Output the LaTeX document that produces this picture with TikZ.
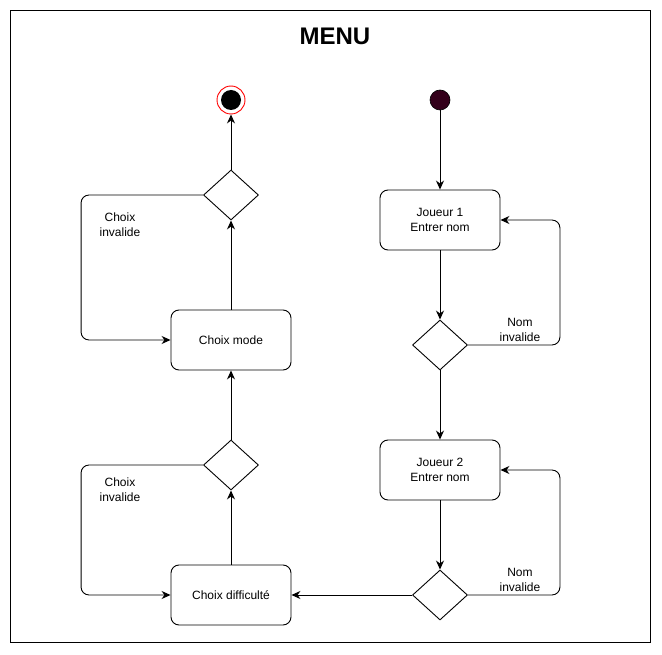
\documentclass[tikz,border=0pt]{standalone}
\usepackage{fontspec}
\setmainfont{Liberation Sans}
\usetikzlibrary{shapes.geometric,arrows.meta}

\definecolor{startfill}{HTML}{33001A}

\tikzset{
  action/.style={draw, line width=0.9pt, rounded corners=8pt, minimum width=120pt, minimum height=60pt, align=center, font=\fontsize{12}{15}\selectfont},
  choice/.style={draw, line width=0.9pt, diamond, minimum width=55pt, minimum height=50pt, inner sep=0pt},
  note/.style={align=center, font=\fontsize{12}{15}\selectfont},
  link/.style={->, line width=0.9pt},
  loop/.style={->, line width=0.9pt, rounded corners=8pt}
}

\begin{document}
\begin{tikzpicture}[x=1pt,y=-1pt,>={Stealth[length=9pt,width=8pt]}]
\useasboundingbox (0,0) rectangle (662,655);

\draw [line width=0.8pt] (10,10) rectangle (650,642);
\node [font=\bfseries\fontsize{24}{28}\selectfont] (title) at (335,36) {MENU};

% start and end
\node [draw=red, fill=white, circle, line width=0.9pt, minimum size=28pt, inner sep=0pt] (end) at (231,100) {};
\fill (end) circle (10pt);
\node [draw, fill=startfill, circle, line width=0.6pt, minimum size=20pt, inner sep=0pt] (start) at (440,100) {};

% players
\node [action] (j1) at (440,220) {Joueur 1\\Entrer nom};
\node [choice] (n1) at (440,345) {};
\node [action] (j2) at (440,470) {Joueur 2\\Entrer nom};
\node [choice] (n2) at (440,595) {};

% mode and difficulty
\node [choice] (c1) at (231,195) {};
\node [action] (mode) at (231,340) {Choix mode};
\node [choice] (c2) at (231,465) {};
\node [action] (diff) at (231,595) {Choix difficulté};

\draw [link] (start) -- (j1);
\draw [link] (j1) -- (n1);
\draw [link] (n1) -- (j2);
\draw [link] (j2) -- (n2);
\draw [link] (n2) -- (diff);
\draw [link] (diff) -- (c2);
\draw [link] (c2) -- (mode);
\draw [link] (mode) -- (c1);
\draw [link] (c1) -- (end);

% invalid loops
\draw [loop] (n1.east) -- ++(92,0) |- (j1.east);
\draw [loop] (n2.east) -- ++(92,0) |- (j2.east);
\draw [loop] (c1.west) -- ++(-122,0) |- (mode.west);
\draw [loop] (c2.west) -- ++(-122,0) |- (diff.west);

\node [note] (nom1) at (520,330) {Nom\\invalide};
\node [note] (nom2) at (520,580) {Nom\\invalide};
\node [note] (choix1) at (120,225) {Choix\\invalide};
\node [note] (choix2) at (120,490) {Choix\\invalide};
\end{tikzpicture}
\end{document}
